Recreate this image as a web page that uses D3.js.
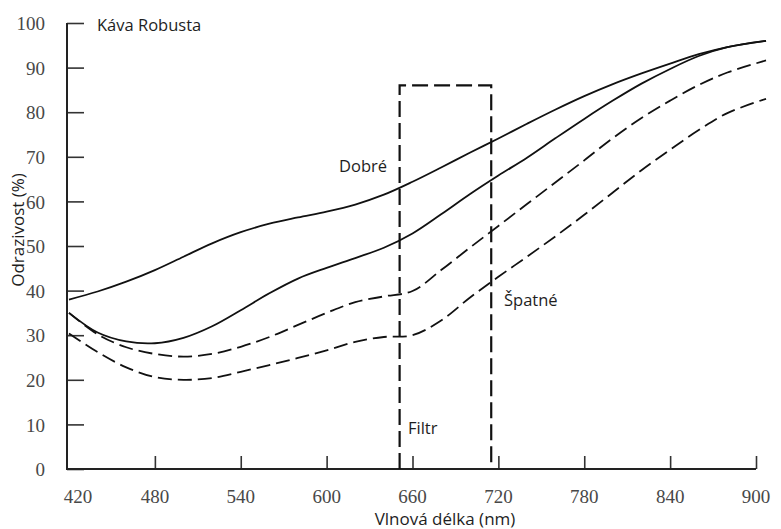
<!DOCTYPE html>
<html>
<head>
<meta charset="utf-8">
<script src="https://cdn.jsdelivr.net/npm/d3@7"></script>
<style>
	body { margin: 0; background: #fff; }
	.tick text, .ticklbl { font-family: "Liberation Serif", serif; font-size: 19px; fill: #484848; }
	.lbl { font-family: "Open Sans", sans-serif; font-size: 16.5px; fill: #1e1e1e; }
	.title { font-size: 17px; }
</style>
</head>
<body>
<div id="chart"></div>
<script>
// wavelengths (nm) the curves were read at
var wavelengths = [420, 440, 460, 480, 500, 520, 540, 560, 580, 600, 620, 640, 660, 680, 700, 720, 740, 760, 780, 800, 820, 840, 860, 880, 907];

// reflectance (%) - two good samples (solid), two bad ones (dashed)
var dobre1 = [38, 39.8, 42, 44.6, 47.6, 50.6, 53.1, 55, 56.4, 57.7, 59.3, 61.5, 64.4, 67.6, 70.9, 74.1, 77.4, 80.6, 83.6, 86.3, 88.7, 90.9, 93, 94.6, 96];
var dobre2 = [35, 30.6, 28.6, 28.2, 29.4, 32, 35.6, 39.4, 42.7, 45.1, 47.3, 49.6, 52.8, 57.1, 61.6, 65.8, 69.8, 74.2, 78.5, 82.6, 86.4, 89.7, 92.6, 94.6, 96];
var spatne1 = [35, 30.2, 27.3, 25.8, 25.2, 25.8, 27.4, 29.6, 32.3, 35, 37.4, 38.7, 39.9, 44.6, 49.6, 54.5, 59.4, 64.3, 69.2, 74.2, 78.7, 82.6, 86.1, 88.9, 91.6];
var spatne2 = [30.4, 26.2, 22.8, 20.6, 20.0, 20.4, 21.8, 23.3, 24.9, 26.6, 28.5, 29.6, 30, 33.3, 38.4, 43.1, 47.6, 52.2, 57, 62, 67, 71.6, 76, 79.8, 83];

// filter window: left edge, right edge (nm), height (%)
var filtrNm = [651, 715];
var filtrTop = 86;

var xTicks = [480, 540, 600, 660, 720, 780, 840, 900];
var xTickLabels = [420, 480, 540, 600, 660, 720, 780, 840, 900];
var yTicks = [0, 10, 20, 30, 40, 50, 60, 70, 80, 90, 100];

var chart = {
	w: 781,
	h: 529,
	left: 67,
	bottom: 469,
	init: function() {
		chart.x = d3.scaleLinear().domain([420, 900]).range([69, 756]);
		chart.y = d3.scaleLinear().domain([0, 100]).range([469, 23]);

		chart.svg = d3.select('#chart').append('svg')
			.attr('width', chart.w)
			.attr('height', chart.h);

		chart.axes();
		chart.filtr();
		chart.curves();
		chart.labels();
	},
	axes: function() {
		var x = chart.x, y = chart.y, svg = chart.svg;

		// y axis, ticks point inward
		var yAxis = d3.axisLeft(y).tickValues(yTicks).tickSize(-17).tickPadding(22).tickSizeOuter(0);
		var gy = svg.append('g')
			.attr('transform', 'translate(' + chart.left + ',0)')
			.call(yAxis);
		gy.select('.domain').remove();
		gy.selectAll('.tick line').attr('stroke', '#333').attr('stroke-width', 1.6);
		gy.selectAll('.tick text').attr('dy', '0.35em');

		// x axis, ticks point up
		var xAxis = d3.axisBottom(x).tickValues(xTicks).tickSize(-13).tickSizeOuter(0).tickFormat('');
		var gx = svg.append('g')
			.attr('transform', 'translate(0,' + chart.bottom + ')')
			.call(xAxis);
		gx.select('.domain').remove();
		gx.selectAll('.tick line').attr('stroke', '#333').attr('stroke-width', 1.6);

		// axis lines
		svg.append('line')
			.attr('x1', chart.left).attr('x2', chart.left)
			.attr('y1', chart.bottom + 1).attr('y2', y(100))
			.attr('stroke', '#222').attr('stroke-width', 2);
		svg.append('line')
			.attr('x1', chart.left).attr('x2', x(900))
			.attr('y1', chart.bottom).attr('y2', chart.bottom)
			.attr('stroke', '#222').attr('stroke-width', 1.8);

		svg.append('g').selectAll('text')
			.data(xTickLabels)
			.enter().append('text')
			.attr('class', 'ticklbl')
			.attr('x', function(d) { return x(d) + (d === 420 ? 9 : 0); })
			.attr('y', 503)
			.attr('text-anchor', 'middle')
			.text(function(d) { return d; });
	},
	filtr: function() {
		var x = chart.x, y = chart.y;
		var pts = [[filtrNm[0], 0], [filtrNm[0], filtrTop], [filtrNm[1], filtrTop], [filtrNm[1], 1]];
		chart.svg.append('path')
			.datum(pts)
			.attr('fill', 'none')
			.attr('stroke', '#111')
			.attr('stroke-width', 2.2)
			.attr('stroke-dasharray', '16,6')
			.attr('d', d3.line().x(function(d) { return x(d[0]); }).y(function(d) { return y(d[1]); }));
	},
	curves: function() {
		var x = chart.x, y = chart.y;
		var line = d3.line()
			.x(function(d, i) { return x(wavelengths[i]); })
			.y(function(d) { return y(d); })
			.curve(d3.curveCatmullRom.alpha(0.5));

		var series = [
			{ v: dobre1, dash: null },
			{ v: dobre2, dash: null },
			{ v: spatne1, dash: '14,6' },
			{ v: spatne2, dash: '14,6' }
		];
		chart.svg.append('g').selectAll('path')
			.data(series)
			.enter().append('path')
			.attr('fill', 'none')
			.attr('stroke', '#111')
			.attr('stroke-width', 1.8)
			.attr('stroke-dasharray', function(d) { return d.dash; })
			.attr('d', function(d) { return line(d.v); });
	},
	labels: function() {
		var svg = chart.svg;
		var add = function(txt, px, py, anchor) {
			return svg.append('text')
				.attr('class', 'lbl')
				.attr('x', px)
				.attr('y', py)
				.attr('text-anchor', anchor || 'start')
				.text(txt);
		};
		add('Káva Robusta', 97, 31);
		add('Dobré', 339, 172);
		add('Špatné', 504, 306);
		add('Filtr', 408, 434);
		add('Vlnová délka (nm)', 445, 525, 'middle').classed('title', true);
		add('Odrazivost (%)', 0, 0, 'middle').classed('title', true)
			.attr('transform', 'translate(24,230)rotate(-90)');
	}
};

chart.init();
</script>
</body>
</html>
